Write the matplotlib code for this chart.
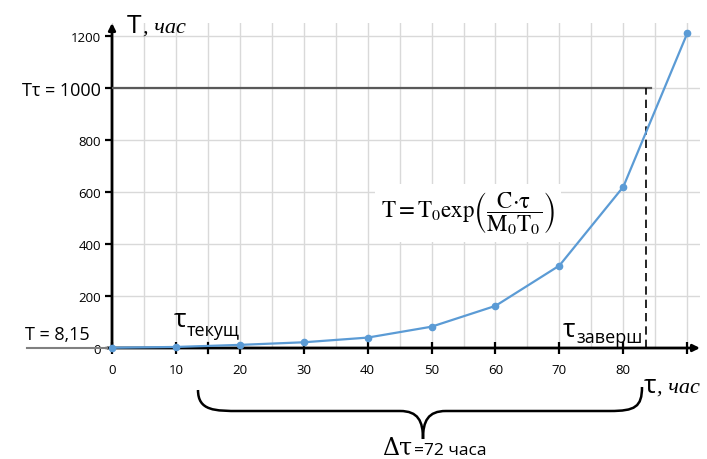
import matplotlib
matplotlib.use('Agg')
import matplotlib.pyplot as plt
import numpy as np
from matplotlib.path import Path
from matplotlib.patches import PathPatch

plt.rcParams['font.family'] = ['Open Sans', 'DejaVu Sans']
plt.rcParams['mathtext.fontset'] = 'stix'

# data
tau = [0, 10, 20, 30, 40, 50, 60, 70, 80, 90]
T = [1, 4, 12, 22, 40, 82, 162, 317, 620, 1210]
x_ticks = [0, 10, 20, 30, 40, 50, 60, 70, 80, 90]
x_labels = ['0', '10', '20', '30', '40', '50', '60', '70', '80', '']
y_ticks = [0, 200, 400, 600, 800, 1000, 1200]
y_labels = ['0', '200', '400', '600', '800', 'Tτ = 1000', '1200']
tau_now = 15
tau_end = 83.5
T_tau = 1000

W, H = 707, 460
fig = plt.figure(figsize=(W / 100, H / 100), dpi=100)
ax = fig.add_axes([112 / W, 111 / H, (700 - 112) / W, (349 - 24) / H])
ax.set_xlim(0, 92)
ax.set_ylim(0, 1250)

# grid
ax.set_xticks(x_ticks)
ax.set_xticklabels(x_labels)
ax.set_xticks(np.arange(5, 90, 10), minor=True)
ax.set_yticks(y_ticks)
ax.set_yticklabels(y_labels)
ax.grid(True, which='both', color='#d9d9d9', lw=1)
ax.set_axisbelow(True)
for s in ax.spines.values():
    s.set_visible(False)
ax.tick_params(axis='x', which='major', direction='inout', length=9, width=1.6,
               color='black', labelsize=9.5, pad=6)
ax.tick_params(axis='x', which='minor', length=0)
ax.tick_params(axis='y', direction='out', length=5, width=1.6, color='black',
               labelsize=9.5, pad=3)
for lab in ax.get_yticklabels():
    if lab.get_text().startswith('Tτ'):
        lab.set_fontsize(13)

# axes arrows
ax.annotate('', xy=(0, 1.0), xytext=(0, -0.01), xycoords='axes fraction',
            arrowprops=dict(arrowstyle='-|>', color='black', lw=2,
                            mutation_scale=10, shrinkA=0, shrinkB=0))
ax.annotate('', xy=(1.0, 0), xytext=(-0.008, 0), xycoords='axes fraction',
            arrowprops=dict(arrowstyle='-|>', color='black', lw=2,
                            mutation_scale=10, shrinkA=0, shrinkB=0))

# T tau line and dashed end line
ax.plot([0, 84.4], [T_tau, T_tau], color='#595959', lw=1.6, zorder=3)
ax.plot([tau_end, tau_end], [0, T_tau], color='black', lw=1.2,
        dashes=(5, 3), zorder=3)
ax.plot([tau_now, tau_now], [-18, 18], color='black', lw=1.6, clip_on=False, zorder=4)

# curve
ax.plot(tau, T, '-o', color='#5b9bd5', lw=1.6, ms=4.5, clip_on=False, zorder=5)

# overlay in pixel coordinates for annotations
ov = fig.add_axes([0, 0, 1, 1], facecolor='none')
ov.set_xlim(0, W)
ov.set_ylim(H, 0)
ov.axis('off')

ov.plot([27, 107], [349, 349], color='#808080', lw=1.5)
ov.text(25, 340, 'T = 8,15', fontsize=13, va='baseline', ha='left')

ov.text(127, 33, 'T', fontsize=19, va='baseline', ha='left')
ov.text(143, 33, ', час', fontsize=16, va='baseline', ha='left',
        family='Liberation Serif', style='italic')

ov.text(174, 327, 'τ', fontsize=19, va='baseline', ha='left')
ov.text(187, 336, 'текущ', fontsize=13, va='baseline', ha='left')
ov.text(563, 337, 'τ', fontsize=19, va='baseline', ha='left')
ov.text(576, 343, 'заверш', fontsize=13, va='baseline', ha='left')

ov.text(644, 393, 'τ', fontsize=19, va='baseline', ha='left')
ov.text(657, 393, ', час', fontsize=16, va='baseline', ha='left',
        family='Liberation Serif', style='italic')

ov.text(468, 214,
        r'$\mathrm{T{=}T_0exp}\left(\dfrac{\mathrm{C{\cdot}\tau}}{\mathrm{M_0T_0}}\right)$',
        fontsize=16.5, ha='center', va='center',
        bbox=dict(facecolor='white', edgecolor='none', pad=4))

# brace
verts = [(198, 391), (198, 412), (215, 412), (240, 412),
         (400, 412),
         (418, 412), (423, 422), (423, 440),
         (423, 422), (428, 412), (446, 412),
         (610, 412),
         (635, 412), (642, 408), (642, 388)]
codes = [Path.MOVETO, Path.CURVE4, Path.CURVE4, Path.CURVE4,
         Path.LINETO,
         Path.CURVE4, Path.CURVE4, Path.CURVE4,
         Path.CURVE4, Path.CURVE4, Path.CURVE4,
         Path.LINETO,
         Path.CURVE4, Path.CURVE4, Path.CURVE4]
ov.add_patch(PathPatch(Path(verts, codes), facecolor='none', edgecolor='black', lw=1.8))

ov.text(382, 455, 'Δτ', fontsize=17, va='baseline', ha='left', family='DejaVu Serif')
ov.text(414, 455, '=72 часа', fontsize=12.5, va='baseline', ha='left')

fig.savefig('out.png', dpi=100)
